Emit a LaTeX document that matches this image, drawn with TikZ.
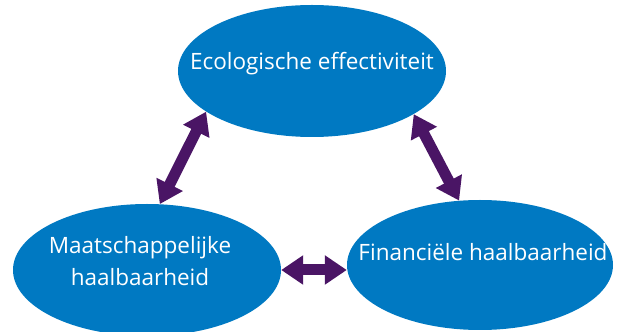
\documentclass[tikz,border=0pt]{standalone}
\usepackage{fontspec}
\setmainfont{Open Sans}
\usetikzlibrary{shapes.geometric,arrows.meta}
\definecolor{ellblue}{HTML}{0079C2}
\definecolor{arrpurple}{HTML}{4A1565}
\tikzset{
  bubble/.style={ellipse,fill=ellblue,draw=none,inner sep=0pt,minimum width=268pt,minimum height=132pt},
  lbl/.style={text=white,font=\fontsize{22.5}{32}\selectfont,inner sep=0pt,align=center},
  dbl/.style={draw=arrpurple,line width=11pt,
    {Triangle[width=28pt,length=22pt]}-{Triangle[width=28pt,length=22pt]}}
}
\begin{document}
\begin{tikzpicture}[x=1pt,y=1pt]
\useasboundingbox (0,0) rectangle (622,332);
\node[bubble] (top) at (312,261) {};
\node[bubble] (left) at (147,62) {};
\node[bubble,minimum width=266pt,minimum height=130pt] (right) at (480,67) {};
\node[lbl] (ttop) at (312,268) {Ecologische effectiviteit};
\node[lbl] (tleft) at (140,71) {Maatschappelijke\\haalbaarheid};
\node[lbl] (tright) at (483,80) {Financiële haalbaarheid};
\draw[dbl] (top.201.6) -- (left.79.4);
\draw[dbl] (top.337.2) -- (right.108.7);
\draw[dbl] (left.east) -- (left.east -| right.west);
\end{tikzpicture}
\end{document}
